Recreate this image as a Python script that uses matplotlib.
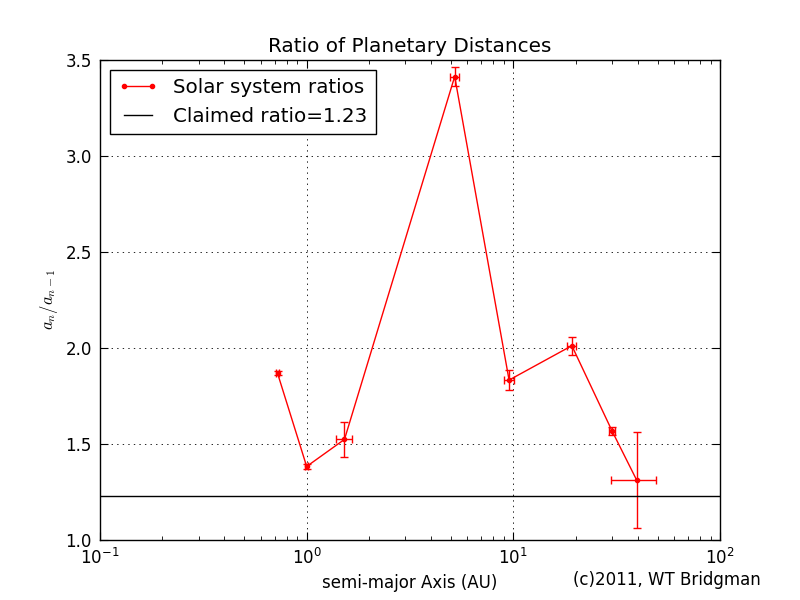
import matplotlib
matplotlib.use("Agg")
import matplotlib.pyplot as plt

# Semi-major axes (AU) and ratios a_n / a_{n-1}
axis_au = [0.723, 1.0, 1.524, 5.203, 9.537, 19.19, 30.07, 39.48]
ratios = [1.868, 1.383, 1.524, 3.414, 1.833, 2.012, 1.567, 1.313]
x_err = [0.01, 0.02, 0.14, 0.27, 0.5, 0.95, 1.0, 9.7]
y_err = [0.01, 0.015, 0.09, 0.05, 0.05, 0.046, 0.02, 0.25]
claimed_ratio = 1.23

plt.rcParams['font.family'] = ['DejaVu Sans']
plt.rcParams['mathtext.fontset'] = 'cm'
plt.rcParams['lines.scale_dashes'] = False
fig = plt.figure(figsize=(8, 6), dpi=100)
ax = fig.add_axes([0.125, 0.1, 0.775, 0.8])

ax.errorbar(axis_au, ratios, xerr=x_err, yerr=y_err, fmt='none',
            ecolor='red', elinewidth=1, capsize=3)
ax.plot(axis_au, ratios, color='red', marker='.', markersize=6, lw=1,
        label='Solar system ratios')
ax.axhline(claimed_ratio, color='black', lw=1, label='Claimed ratio=1.23')

ax.set_xscale('log')
ax.set_xlim(0.1, 100)
ax.set_ylim(1.0, 3.5)
ax.set_yticks([1.0, 1.5, 2.0, 2.5, 3.0, 3.5])
ax.grid(True, color='black', linestyle=(0, (1, 3)), linewidth=0.6)
ax.tick_params(which='both', direction='in', top=True, right=True, labelsize=12)
ax.tick_params(which='major', length=6, pad=6)
ax.tick_params(which='minor', length=3)
for s in ax.spines.values():
    s.set_linewidth(1)

ax.set_title('Ratio of Planetary Distances', fontsize=14.4)
ax.set_xlabel('semi-major Axis (AU)', fontsize=12)
ax.set_ylabel('$a_n/a_{n-1}$', fontsize=12)

leg = ax.legend(loc='upper left', numpoints=2, fontsize=14.3, fancybox=False,
                framealpha=1, edgecolor='black', borderaxespad=0.5)
leg.get_frame().set_linewidth(1)

fig.text(0.716, 0.033, '(c)2011, WT Bridgman', fontsize=12, ha='left', va='center')

fig.savefig('out.png', dpi=100)
